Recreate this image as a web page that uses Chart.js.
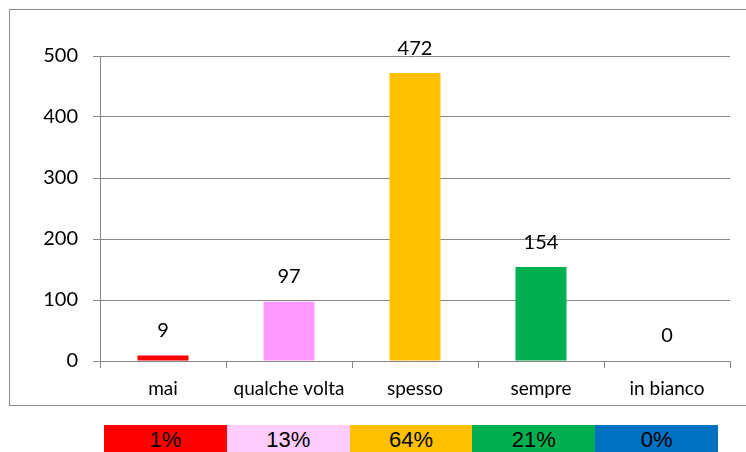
<!DOCTYPE html>
<html>
<head>
<meta charset="utf-8">
<script src="https://cdn.jsdelivr.net/npm/chart.js@4/dist/chart.umd.min.js"></script>
<style>
    body { margin: 0; width: 746px; height: 452px; overflow: hidden; background: #fff; position: relative; }
    #box { position: absolute; left: 9px; top: 9px; width: 760px; height: 395px; border: 1.5px solid #8c8c8c; border-right: none; }
    #wrap { position: absolute; left: 0; top: 0; width: 746px; height: 410px; }
    #strip { position: absolute; left: 104px; top: 425px; width: 614px; height: 27px; display: flex; }
    #strip div { flex: 1; text-align: center; font-family: "Liberation Sans", Arial, sans-serif; font-size: 22px; line-height: 30px; color: #000; }
</style>
</head>
<body>
<div id="box"></div>
<div id="wrap"><canvas id="chart"></canvas></div>
<div id="strip"></div>
<script>
// dati
const categories = ['mai', 'qualche volta', 'spesso', 'sempre', 'in bianco'];
const counts = [9, 97, 472, 154, 0];
const percentLabels = ['1%', '13%', '64%', '21%', '0%'];
const barColors = ['#ff0000', '#ff99ff', '#ffc000', '#00b050', '#0070c0'];
const stripColors = ['#ff0000', '#ffccff', '#ffc000', '#00b050', '#0070c0'];

// striscia percentuali
const strip = document.getElementById('strip');
percentLabels.forEach(function(p, i) {
    const d = document.createElement('div');
    d.style.background = stripColors[i];
    d.textContent = p;
    strip.appendChild(d);
});

const gridColor = '#868686';

// etichette sopra le barre
const valueLabels = {
    id: 'valueLabels',
    afterDatasetsDraw(chart) {
        const ctx = chart.ctx;
        const meta = chart.getDatasetMeta(0);
        ctx.save();
        ctx.font = '20px Lato, sans-serif';
        ctx.fillStyle = '#000';
        ctx.textAlign = 'center';
        ctx.textBaseline = 'middle';
        meta.data.forEach(function(bar, i) {
            ctx.fillText(String(counts[i]), bar.x, bar.y - 25);
        });
        ctx.restore();
    }
};

new Chart(document.getElementById('chart'), {
    type: 'bar',
    data: {
        labels: categories,
        datasets: [{
            data: counts,
            backgroundColor: barColors,
            barPercentage: 0.405,
            categoryPercentage: 1
        }]
    },
    options: {
        responsive: true,
        maintainAspectRatio: false,
        animation: false,
        layout: { padding: { left: 10, right: 16, top: 56, bottom: 0 } },
        plugins: {
            legend: { display: false },
            tooltip: { enabled: false }
        },
        scales: {
            y: {
                min: 0,
                max: 500,
                ticks: { stepSize: 100, padding: 15, color: '#000', font: { family: 'Lato', size: 20 } },
                grid: { color: gridColor, tickLength: 7 },
                border: { color: gridColor },
                afterFit: function(s) { s.width = 90; }
            },
            x: {
                ticks: { padding: 9, color: '#000', font: { family: 'Lato', size: 19 } },
                grid: { display: true, drawOnChartArea: false, color: gridColor, tickLength: 7 },
                border: { color: gridColor },
                afterFit: function(s) { s.height = 49; }
            }
        }
    },
    plugins: [valueLabels]
});
</script>
</body>
</html>
